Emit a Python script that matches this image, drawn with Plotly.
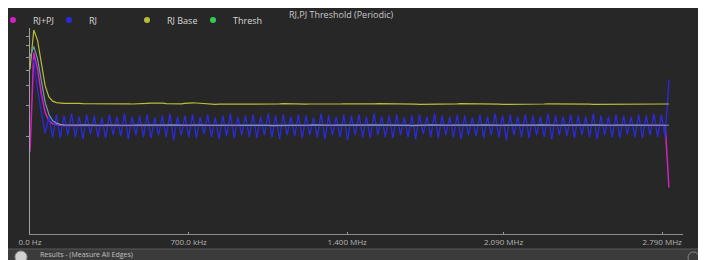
import plotly.graph_objects as go
import numpy as np

# ---------------- data ----------------
freq_start_khz = 0.0
freq_stop_khz = 2820.0
n_points = 170

x_tick_vals = [0, 700, 1400, 2090, 2790]
x_tick_text = ["0.0 Hz", "700.0 kHz", "1.400 MHz", "2.090 MHz", "2.790 MHz"]
y_tick_vals = [96.1, 91.3, 85.9, 79.6, 72.3, 62.6, 47.1]

rj_values = [
    86, 84, 70, 60, 49, 57, 47, 58, 46.5, 57.5,
    48, 58.5, 47, 57, 46, 58, 48.5, 57.5, 47, 56.5,
    46.5, 58, 48, 57, 47.5, 58.5, 46, 57, 48, 57.5,
    47, 58, 46.5, 56.5, 48, 57.5, 47, 58.5, 45.5, 57,
    48, 57.5, 47, 58, 46.5, 57, 48.5, 58, 47, 56.5,
    46, 57.5, 47.5, 58.5, 46.5, 57, 48, 57.5, 47, 58,
    46.5, 57, 48, 58.5, 47, 57.5, 46, 58, 48, 57,
    47.5, 58, 46.5, 57.5, 48, 56.5, 47, 58.5, 46, 57.5,
    48, 57, 47, 58, 45.5, 57.5, 48, 58, 47, 57,
    46.5, 58.5, 48, 57, 47, 57.5, 46.5, 58, 48, 56.5,
    47, 57.5, 46, 58, 48.5, 57, 47, 58.5, 46.5, 57.5,
    48, 57, 47, 58, 46, 57.5, 48, 56.5, 47.5, 58,
    46.5, 57, 48, 58.5, 47, 57.5, 45.5, 58, 48, 57,
    47, 58, 46.5, 57.5, 48, 57, 47, 58.5, 46, 57.5,
    48, 57, 47.5, 58, 46.5, 57.5, 48, 57, 47, 58.5,
    46, 57.5, 48, 57, 47, 58, 46.5, 57.5, 48.5, 57,
    47, 58, 46.5, 57.5, 48, 58.5, 47, 58, 47, 75,
]

rj_base_values = [
    80, 99, 94, 82, 72, 66.5, 64.5, 63.8, 63.5, 63.4,
    63.4, 63.5, 63.5, 63.4, 63.3, 63.3, 63.4, 63.5, 63.4, 63.3,
    63.2, 63.2, 63.3, 63.4, 63.4, 63.3, 63.2, 63.1, 63.1, 63.2,
    63.3, 63.4, 63.5, 63.6, 63.6, 63.5, 63.3, 63.2, 63.1, 63.1,
    63.2, 63.4, 63.6, 63.7, 63.6, 63.4, 63.2, 63.0, 62.9, 62.9,
    63.0, 63.1, 63.2, 63.2, 63.1, 63.0, 63.0, 63.1, 63.2, 63.2,
    63.1, 63.0, 62.9, 62.9, 63.0, 63.1, 63.2, 63.3, 63.2, 63.1,
    63.0, 62.9, 62.9, 63.0, 63.1, 63.1, 63.0, 62.9, 62.8, 62.8,
    62.9, 63.0, 63.1, 63.2, 63.2, 63.1, 63.0, 62.9, 62.9, 63.0,
    63.1, 63.2, 63.3, 63.3, 63.2, 63.1, 63.0, 63.0, 63.1, 63.2,
    63.2, 63.1, 63.0, 62.9, 62.9, 63.0, 63.1, 63.1, 63.0, 62.9,
    62.9, 63.0, 63.1, 63.2, 63.3, 63.3, 63.2, 63.1, 63.0, 63.0,
    63.1, 63.2, 63.2, 63.1, 63.0, 62.9, 62.9, 63.0, 63.1, 63.1,
    63.0, 62.9, 62.8, 62.8, 62.9, 63.0, 63.1, 63.2, 63.2, 63.1,
    63.0, 63.0, 63.1, 63.2, 63.3, 63.3, 63.2, 63.1, 63.0, 62.9,
    62.9, 63.0, 63.1, 63.1, 63.0, 62.9, 62.9, 63.0, 63.1, 63.2,
    63.2, 63.1, 63.0, 63.0, 63.1, 63.2, 63.2, 63.1, 63.1, 63.1,
]

thresh_values = [
    86, 91, 85, 74, 64, 58, 55, 53.8, 53.2, 53.0,
    52.9, 52.8, 52.8, 52.9, 53.0, 52.9, 52.8, 52.7, 52.7, 52.8,
    52.9, 53.0, 53.0, 52.9, 52.8, 52.7, 52.7, 52.8, 52.9, 52.9,
    52.8, 52.7, 52.6, 52.6, 52.7, 52.8, 52.9, 53.0, 52.9, 52.8,
    52.7, 52.7, 52.8, 52.9, 53.0, 53.0, 52.9, 52.8, 52.7, 52.6,
    52.6, 52.7, 52.8, 52.9, 52.9, 52.8, 52.7, 52.7, 52.8, 52.9,
    53.0, 52.9, 52.8, 52.7, 52.6, 52.6, 52.7, 52.8, 52.9, 52.9,
    52.8, 52.7, 52.7, 52.8, 52.9, 53.0, 52.9, 52.8, 52.7, 52.7,
    52.8, 52.9, 52.9, 52.8, 52.7, 52.6, 52.6, 52.7, 52.8, 52.9,
    53.0, 53.0, 52.9, 52.8, 52.7, 52.7, 52.8, 52.9, 52.9, 52.8,
    52.7, 52.6, 52.6, 52.7, 52.8, 52.9, 53.0, 52.9, 52.8, 52.7,
    52.7, 52.8, 52.9, 52.9, 52.8, 52.7, 52.6, 52.7, 52.8, 52.9,
    53.0, 52.9, 52.8, 52.7, 52.7, 52.8, 52.9, 52.9, 52.8, 52.7,
    52.6, 52.6, 52.7, 52.8, 52.9, 53.0, 52.9, 52.8, 52.7, 52.7,
    52.8, 52.9, 52.9, 52.8, 52.7, 52.6, 52.7, 52.8, 52.9, 53.0,
    52.9, 52.8, 52.7, 52.7, 52.8, 52.9, 52.9, 52.8, 52.7, 52.8,
    52.9, 52.9, 52.8, 52.7, 52.7, 52.8, 52.9, 52.9, 52.8, 52.8,
]

rj_pj_values = [
    40, 88, 80, 68, 59, 55, 53.5, 53.0, 52.8, 52.7,
    52.7, 52.7, 52.7, 52.8, 52.8, 52.8, 52.7, 52.7, 52.7, 52.7,
    52.8, 52.8, 52.8, 52.8, 52.7, 52.7, 52.7, 52.7, 52.8, 52.8,
    52.7, 52.7, 52.6, 52.6, 52.7, 52.7, 52.8, 52.8, 52.8, 52.7,
    52.7, 52.7, 52.7, 52.8, 52.8, 52.8, 52.8, 52.7, 52.7, 52.6,
    52.6, 52.7, 52.7, 52.8, 52.8, 52.7, 52.7, 52.7, 52.7, 52.8,
    52.8, 52.8, 52.7, 52.7, 52.6, 52.6, 52.7, 52.7, 52.8, 52.8,
    52.7, 52.7, 52.7, 52.7, 52.8, 52.8, 52.8, 52.7, 52.7, 52.7,
    52.7, 52.8, 52.8, 52.7, 52.7, 52.6, 52.6, 52.7, 52.7, 52.8,
    52.8, 52.8, 52.8, 52.7, 52.7, 52.7, 52.7, 52.8, 52.8, 52.7,
    52.7, 52.6, 52.6, 52.7, 52.7, 52.8, 52.8, 52.8, 52.7, 52.7,
    52.7, 52.7, 52.8, 52.8, 52.7, 52.7, 52.6, 52.7, 52.7, 52.8,
    52.8, 52.8, 52.7, 52.7, 52.7, 52.7, 52.8, 52.8, 52.7, 52.7,
    52.6, 52.6, 52.7, 52.7, 52.8, 52.8, 52.8, 52.7, 52.7, 52.7,
    52.7, 52.8, 52.8, 52.7, 52.7, 52.6, 52.7, 52.7, 52.8, 52.8,
    52.8, 52.7, 52.7, 52.7, 52.7, 52.8, 52.8, 52.7, 52.7, 52.7,
    52.8, 52.8, 52.7, 52.7, 52.7, 52.7, 52.8, 52.8, 52.8, 22.5,
]

freq_khz = np.linspace(freq_start_khz, freq_stop_khz, n_points)

# ---------------- style ----------------
C_RJPJ = "#d41fc4"
C_RJ = "#2a2ae0"
C_BASE = "#bcbc3a"
C_THRESH = "#2fcf4f"
C_THRESH_LINE = "#6a9fa8"
BG = "#272727"
FONT = "Open Sans"

# The page body has an 8px margin, so the figure starts at page (8, 8).
OFF = 8
W, H = 692, 260
# plot area in page pixels: x 30..683, y 28..234
L = 30 - OFF
R = W - (683 - OFF)
T = 28 - OFF
B = H - (234 - OFF)
PW, PH = W - L - R, H - T - B


def px(page_x):
    return (page_x - OFF - L) / PW


def py(page_y):
    return (H - B - (page_y - OFF)) / PH


fig = go.Figure()

fig.add_trace(go.Scatter(x=freq_khz, y=rj_pj_values, mode="lines", name="RJ+PJ",
                         line=dict(color=C_RJPJ, width=1.5), showlegend=False))
fig.add_trace(go.Scatter(x=freq_khz, y=rj_values, mode="lines", name="RJ",
                         line=dict(color=C_RJ, width=1.3), showlegend=False))
fig.add_trace(go.Scatter(x=freq_khz, y=rj_base_values, mode="lines", name="RJ Base",
                         line=dict(color=C_BASE, width=1.2), showlegend=False))
fig.add_trace(go.Scatter(x=freq_khz, y=thresh_values, mode="lines", name="Thresh",
                         line=dict(color=C_THRESH_LINE, width=1.2), showlegend=False))

# legend entries (dot symbols), one legend box per entry for exact placement
legend_entries = [("RJ+PJ", C_RJPJ, "legend", -7), ("RJ", C_RJ, "legend2", 49),
                  ("RJ Base", C_BASE, "legend3", 127), ("Thresh", C_THRESH, "legend4", 193)]
for name, col, lg, _ in legend_entries:
    fig.add_trace(go.Scatter(x=[None], y=[None], mode="markers", name=name,
                             marker=dict(color=col, size=6), legend=lg, showlegend=True))

legend_common = dict(orientation="h", bgcolor="rgba(0,0,0,0)", borderwidth=0,
                     font=dict(family=FONT, size=9, color="#d8d8d8"),
                     xanchor="left", yanchor="middle", itemwidth=30,
                     tracegroupgap=0, itemclick=False, itemdoubleclick=False)
legend_layout = {lg: dict(x=px(pos), y=py(20), **legend_common)
                 for _, _, lg, pos in legend_entries}

fig.update_layout(
    width=W, height=H,
    margin=dict(l=L, r=R, t=T, b=B, pad=0, autoexpand=False),
    paper_bgcolor=BG,
    plot_bgcolor="rgba(0,0,0,0)",
    font=dict(family=FONT, size=8, color="#b0b0b0"),
    xaxis=dict(range=[0, 2882], tickmode="array", tickvals=x_tick_vals, ticktext=x_tick_text,
               showgrid=False, zeroline=False, showline=True, linecolor="#8c8c8c", linewidth=1,
               ticks="inside", ticklen=2, tickcolor="#9a9a9a", automargin=False,
               tickfont=dict(family=FONT, size=8, color="#b4b4b4")),
    yaxis=dict(range=[0, 100], tickmode="array", tickvals=y_tick_vals, showticklabels=False,
               showgrid=False, zeroline=False, showline=True, linecolor="#a0a0a0", linewidth=1,
               ticks="outside", ticklen=3, tickcolor="#9a9a9a", automargin=False),
    shapes=[
        dict(type="rect", xref="paper", yref="paper", x0=px(0), x1=px(710), y0=py(275), y1=py(249),
             fillcolor="#3b3b3b", line=dict(width=0), layer="below"),
        dict(type="line", xref="paper", yref="paper", x0=px(0), x1=px(710), y0=py(249), y1=py(249),
             line=dict(color="#5a5a5a", width=1), layer="below"),
        dict(type="circle", xref="paper", yref="paper", x0=px(15), x1=px(27), y0=py(263), y1=py(251),
             fillcolor="#d0d0d0", line=dict(color="#909090", width=1), layer="above"),
        dict(type="circle", xref="paper", yref="paper", x0=px(688), x1=px(699), y0=py(263), y1=py(252),
             fillcolor="rgba(0,0,0,0)", line=dict(color="#8a8a8a", width=1), layer="above"),
    ],
    annotations=[
        dict(text="RJ,PJ Threshold (Periodic)", xref="paper", yref="paper", x=px(341), y=py(14.5),
             xanchor="center", yanchor="middle", showarrow=False,
             font=dict(family=FONT, size=9, color="#c8c8c8")),
        dict(text="Results - (Measure All Edges)", xref="paper", yref="paper", x=px(38), y=py(254.5),
             xanchor="left", yanchor="middle", showarrow=False,
             font=dict(family=FONT, size=7, color="#c0c0c0")),
    ],
    **legend_layout,
)

fig.write_html("out.html")
